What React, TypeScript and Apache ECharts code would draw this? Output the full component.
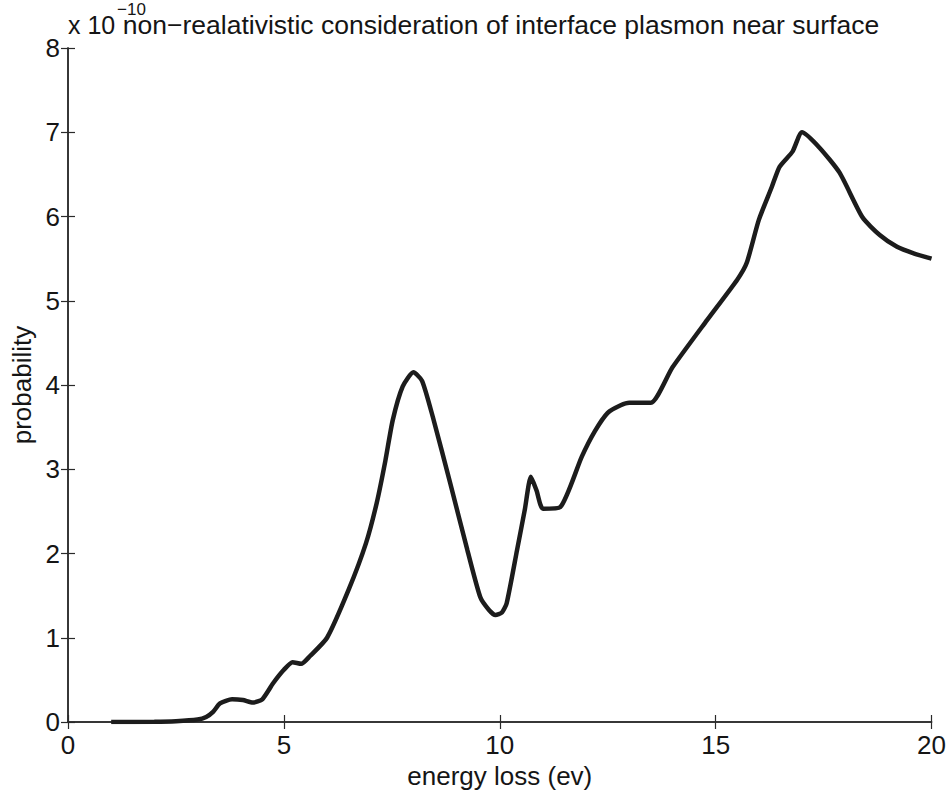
import React, { useEffect, useRef } from "react";
import * as echarts from "echarts";

const energyLoss: number[] = [
  1, 2, 2.5, 3, 3.2, 3.36, 3.52, 3.8, 4.05, 4.28, 4.5, 4.75, 5.0, 5.2, 5.4, 5.6,
  6.0, 6.5, 6.9, 7.15, 7.35, 7.52, 7.75, 8.0, 8.2, 8.45, 8.85, 9.25, 9.55, 9.75,
  9.9, 10.05, 10.16, 10.4, 10.58, 10.72, 10.85, 11.0, 11.4, 11.9, 12.2, 12.5,
  12.8, 13.0, 13.5, 14.0, 14.8, 15.5, 15.72, 16.0, 16.3, 16.48, 16.78, 17.0,
  17.4, 17.87, 18.4, 18.8, 19.2, 19.6, 20.0,
];
const probability: number[] = [
  0, 0.003, 0.01, 0.03, 0.06, 0.12, 0.22, 0.27, 0.26, 0.23, 0.27, 0.46, 0.62,
  0.71, 0.69, 0.78, 1.0, 1.57, 2.12, 2.6, 3.1, 3.58, 3.98, 4.15, 4.05, 3.62,
  2.84, 2.04, 1.48, 1.33, 1.27, 1.3, 1.41, 2.04, 2.52, 2.91, 2.75, 2.53, 2.55,
  3.15, 3.45, 3.67, 3.76, 3.79, 3.79, 4.21, 4.77, 5.25, 5.45, 5.96, 6.35, 6.59,
  6.77, 7.0, 6.82, 6.52, 5.99, 5.78, 5.64, 5.56, 5.5,
];
const xTicks: number[] = [0, 5, 10, 15, 20];
const yTicks: number[] = [0, 1, 2, 3, 4, 5, 6, 7, 8];

const titleText = "non\u2212realativistic consideration of interface plasmon near surface";
const xName = "energy loss (ev)";
const yName = "probability";
const scaleBase = "x 10";
const scaleExp = "\u221210";

const FONT = "'Liberation Sans', Arial, sans-serif";
const INK = "#151515";

export default function App() {
  const ref = useRef<HTMLDivElement>(null);
  useEffect(() => {
    if (!ref.current) return;
    const chart = echarts.init(ref.current, null, { renderer: "svg" });
    const axisLine = { show: true, lineStyle: { color: "#2a2a2a", width: 1.5 } };
    const tick = { show: true, inside: true, length: 7, lineStyle: { color: "#2a2a2a", width: 1.2 } };
    chart.setOption({
      animation: false,
      backgroundColor: "#ffffff",
      title: {
        text: titleText,
        left: 496,
        top: 6,
        textAlign: "center",
        textStyle: { fontFamily: FONT, fontSize: 26.5, fontWeight: "normal", color: INK },
      },
      graphic: [
        {
          type: "text",
          left: 68,
          top: 12,
          style: { text: scaleBase, fontFamily: FONT, fontSize: 25, fill: INK },
        },
        {
          type: "text",
          left: 117,
          top: 1,
          style: { text: scaleExp, fontFamily: FONT, fontSize: 17, fill: INK },
        },
      ],
      grid: { left: 68, right: 17, top: 48, bottom: 72, containLabel: false },
      xAxis: [
        {
          type: "value",
          min: 0,
          max: 20,
          interval: 5,
          position: "bottom",
          name: xName,
          nameLocation: "middle",
          nameGap: 36,
          nameTextStyle: { fontFamily: FONT, fontSize: 26, color: INK },
          axisLine,
          axisTick: tick,
          splitLine: { show: false },
          axisLabel: {
            fontFamily: FONT,
            fontSize: 26,
            color: INK,
            margin: 10,
            formatter: (v: number) => (xTicks.includes(v) ? String(v) : ""),
          },
        },
        {
          type: "value",
          min: 0,
          max: 20,
          interval: 5,
          position: "top",
          axisLine,
          axisTick: tick,
          splitLine: { show: false },
          axisLabel: { show: false },
        },
      ],
      yAxis: [
        {
          type: "value",
          min: 0,
          max: 8,
          interval: 1,
          position: "left",
          name: yName,
          nameLocation: "middle",
          nameGap: 33,
          nameTextStyle: { fontFamily: FONT, fontSize: 26, color: INK },
          axisLine,
          axisTick: tick,
          splitLine: { show: false },
          axisLabel: {
            fontFamily: FONT,
            fontSize: 26,
            color: INK,
            margin: 8,
            formatter: (v: number) => (yTicks.includes(v) ? String(v) : ""),
          },
        },
        {
          type: "value",
          min: 0,
          max: 8,
          interval: 1,
          position: "right",
          axisLine,
          axisTick: tick,
          splitLine: { show: false },
          axisLabel: { show: false },
        },
      ],
      series: [
        {
          type: "line",
          xAxisIndex: 0,
          yAxisIndex: 0,
          data: energyLoss.map((x, i) => [x, probability[i]]),
          showSymbol: false,
          smooth: 0.2,
          lineStyle: { color: "#1c1c1c", width: 4.5 },
        },
      ],
    });
    return () => chart.dispose();
  }, []);
  return (
    <div
      ref={ref}
      style={{ position: "fixed", left: 0, top: 0, width: 949, height: 794, background: "#fff" }}
    />
  );
}
